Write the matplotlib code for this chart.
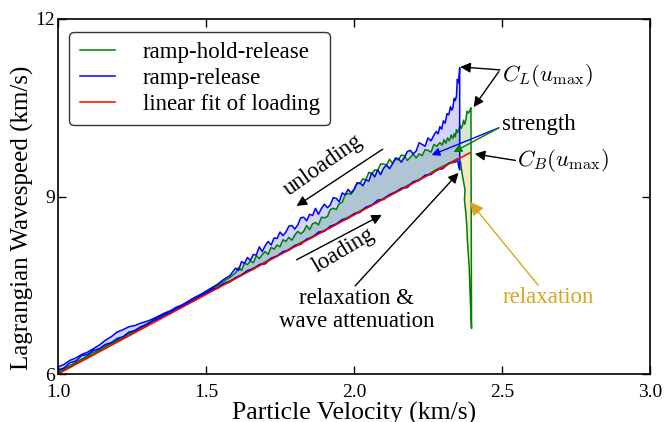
import matplotlib
matplotlib.use("Agg")
import matplotlib.pyplot as plt

plt.rcParams['font.family'] = ['Liberation Serif', 'DejaVu Serif']
plt.rcParams['mathtext.fontset'] = 'cm'

# ---------------- data ----------------
fit_x = [1.0, 2.392]
fit_y = [6.0, 9.74]

# ramp-release: loading branch
rr_load_x = [1.00, 1.02, 1.04, 1.06, 1.08, 1.10, 1.12, 1.14, 1.16, 1.18, 1.20, 1.22, 1.24, 1.26,
             1.28, 1.30, 1.32, 1.34, 1.36, 1.38, 1.40, 1.42, 1.44, 1.46, 1.48, 1.50, 1.52, 1.54,
             1.56, 1.58, 1.60, 1.62, 1.64, 1.66, 1.68, 1.70, 1.72, 1.74, 1.76, 1.78, 1.80, 1.82,
             1.84, 1.86, 1.88, 1.90, 1.92, 1.94, 1.96, 1.98, 2.00, 2.02, 2.04, 2.06, 2.08, 2.10,
             2.12, 2.14, 2.16, 2.18, 2.20, 2.22, 2.24, 2.26, 2.28, 2.30, 2.32, 2.34, 2.350, 2.354, 2.357]
rr_load_y = [6.07, 6.10, 6.19, 6.22, 6.31, 6.33, 6.40, 6.43, 6.50, 6.53, 6.60, 6.63, 6.71, 6.73,
             6.80, 6.83, 6.90, 6.94, 7.01, 7.03, 7.11, 7.14, 7.21, 7.24, 7.32, 7.36, 7.43, 7.45,
             7.53, 7.55, 7.63, 7.67, 7.75, 7.77, 7.85, 7.86, 7.96, 7.99, 8.07, 8.09, 8.17, 8.19,
             8.28, 8.31, 8.40, 8.41, 8.50, 8.53, 8.61, 8.63, 8.71, 8.73, 8.82, 8.85, 8.94, 8.95,
             9.03, 9.07, 9.14, 9.15, 9.25, 9.27, 9.36, 9.37, 9.45, 9.47, 9.56, 9.58, 9.60, 9.50, 9.45]

# ramp-release: unloading branch (from peak back down)
rr_unload_x = [2.357, 2.353, 2.349, 2.346, 2.342, 2.338, 2.334, 2.330, 2.326, 2.320, 2.314, 2.308,
               2.302, 2.296, 2.290, 2.284, 2.278,
               2.27, 2.26, 2.25, 2.24, 2.23, 2.22, 2.21, 2.20, 2.19, 2.18, 2.17, 2.16, 2.15, 2.14,
               2.13, 2.12, 2.11, 2.10, 2.09, 2.08, 2.07, 2.06, 2.05, 2.04, 2.03, 2.02, 2.01, 2.00,
               1.99, 1.98, 1.97, 1.96, 1.95, 1.94, 1.93, 1.92, 1.91, 1.90, 1.89, 1.88, 1.87, 1.86,
               1.85, 1.84, 1.83, 1.82, 1.81, 1.80, 1.79, 1.78, 1.77, 1.76, 1.75, 1.74, 1.73, 1.72,
               1.71, 1.70, 1.69, 1.68, 1.67, 1.66, 1.65, 1.64, 1.63, 1.62, 1.61, 1.60,
               1.58, 1.56, 1.54, 1.52, 1.50, 1.48, 1.46, 1.44, 1.42, 1.40, 1.38, 1.36, 1.34, 1.32,
               1.30, 1.28, 1.26, 1.24, 1.22, 1.20, 1.18, 1.16, 1.14, 1.12, 1.10, 1.08, 1.06, 1.04,
               1.02, 1.00]
rr_unload_y = [11.18, 10.92, 10.98, 10.70, 10.62, 10.66, 10.50, 10.46, 10.52, 10.38, 10.40, 10.24,
               10.28, 10.14, 10.18, 10.06, 10.10,
               10.04, 9.94, 9.99, 9.85, 9.88, 9.91, 9.77, 9.72, 9.78, 9.76, 9.66, 9.58, 9.64, 9.65,
               9.55, 9.47, 9.53, 9.48, 9.37, 9.45, 9.33, 9.40, 9.26, 9.28, 9.18, 9.23, 9.23, 9.12,
               9.06, 9.12, 9.03, 9.06, 8.91, 8.97, 8.98, 8.86, 8.81, 8.87, 8.80, 8.70, 8.80, 8.68,
               8.70, 8.59, 8.65, 8.64, 8.52, 8.45, 8.51, 8.50, 8.40, 8.34, 8.40, 8.29, 8.30, 8.18,
               8.24, 8.17, 8.07, 8.15, 8.01, 8.02, 7.92, 7.97, 7.87, 7.90, 7.75, 7.79,
               7.66, 7.60, 7.52, 7.46, 7.40, 7.34, 7.29, 7.23, 7.17, 7.13, 7.07, 7.03, 6.98, 6.93,
               6.89, 6.86, 6.82, 6.80, 6.75, 6.71, 6.63, 6.57, 6.49, 6.43, 6.37, 6.33, 6.27, 6.23,
               6.16, 6.12]

# ramp-hold-release: loading branch + relaxation during hold
rhr_load_x = [1.00, 1.04, 1.08, 1.12, 1.16, 1.20, 1.24, 1.28, 1.32, 1.36, 1.40, 1.44, 1.48, 1.52,
              1.56, 1.60, 1.64, 1.68, 1.72, 1.76, 1.80, 1.84, 1.88, 1.92, 1.96, 2.00, 2.04, 2.08,
              2.12, 2.16, 2.20, 2.24, 2.28, 2.32, 2.35, 2.36]
rhr_load_y = [6.02, 6.12, 6.24, 6.33, 6.46, 6.56, 6.67, 6.77, 6.89, 6.98, 7.10, 7.19, 7.31, 7.41,
              7.53, 7.62, 7.74, 7.84, 7.95, 8.05, 8.17, 8.27, 8.38, 8.48, 8.60, 8.70, 8.81, 8.91,
              9.03, 9.13, 9.24, 9.34, 9.46, 9.56, 9.64, 9.58]
rhr_hold_x = [2.364, 2.369, 2.375, 2.373, 2.378, 2.381, 2.383, 2.386, 2.389, 2.391, 2.393, 2.395, 2.397]
rhr_hold_y = [9.42, 9.28, 9.11, 8.94, 8.71, 8.49, 8.26, 8.04, 7.81, 7.53, 7.25, 6.97, 6.77]

# ramp-hold-release: unloading branch (from peak back down)
rhr_unload_x = [2.395, 2.390, 2.386, 2.382, 2.378, 2.374, 2.370, 2.366, 2.362, 2.358, 2.354, 2.350,
                2.346, 2.342, 2.338, 2.334, 2.328, 2.322, 2.316, 2.310, 2.304, 2.298, 2.290,
                2.28, 2.27, 2.26, 2.25, 2.24, 2.23, 2.22, 2.21, 2.20, 2.19, 2.18, 2.17, 2.16, 2.15,
                2.14, 2.13, 2.12, 2.11, 2.10, 2.09, 2.08, 2.07, 2.06, 2.05, 2.04, 2.03, 2.02, 2.01,
                2.00, 1.99, 1.98, 1.97, 1.96, 1.95, 1.94, 1.93, 1.92, 1.91, 1.90, 1.89, 1.88, 1.87,
                1.86, 1.85, 1.84, 1.83, 1.82, 1.81, 1.80, 1.79, 1.78, 1.77, 1.76, 1.75, 1.74, 1.73,
                1.72, 1.71, 1.70, 1.69, 1.68, 1.67, 1.66, 1.65, 1.64, 1.63, 1.62, 1.61, 1.60,
                1.58, 1.56, 1.54, 1.52, 1.50, 1.46, 1.42, 1.38, 1.34, 1.30, 1.26, 1.22, 1.18, 1.14,
                1.10, 1.06, 1.02, 1.00]
rhr_unload_y = [10.50, 10.44, 10.41, 10.44, 10.30, 10.22, 10.29, 10.19, 10.15, 10.21, 10.12, 10.08,
                10.13, 10.01, 10.06, 9.98, 10.04, 9.94, 9.99, 9.90, 9.96, 9.87, 9.91,
                9.85, 9.88, 9.75, 9.78, 9.79, 9.69, 9.72, 9.65, 9.72, 9.66, 9.61, 9.69, 9.70, 9.62,
                9.63, 9.56, 9.63, 9.53, 9.55, 9.55, 9.44, 9.45, 9.38, 9.41, 9.28, 9.30, 9.22, 9.22,
                9.11, 9.04, 9.05, 9.03, 8.90, 8.88, 8.78, 8.80, 8.78, 8.66, 8.64, 8.65, 8.52, 8.56,
                8.54, 8.44, 8.51, 8.41, 8.37, 8.41, 8.35, 8.26, 8.31, 8.24, 8.27, 8.15, 8.18, 8.11,
                8.14, 8.02, 8.07, 8.02, 7.95, 8.00, 7.88, 7.91, 7.85, 7.87, 7.75, 7.80, 7.71,
                7.63, 7.57, 7.50, 7.44, 7.38, 7.28, 7.16, 7.06, 6.96, 6.85, 6.74, 6.63, 6.52, 6.42,
                6.31, 6.20, 6.09, 6.04]

x_ticks = [1.0, 1.5, 2.0, 2.5, 3.0]
x_ticklabels = ["1.0", "1.5", "2.0", "2.5", "3.0"]
y_ticks = [6, 9, 12]
y_ticklabels = ["6", "9", "12"]

# ---------------- figure ----------------
fig = plt.figure(figsize=(6.64, 4.22), dpi=100)
ax = fig.add_axes([0.0873, 0.1137, 0.8917, 0.8413])

rr_x = rr_load_x + rr_unload_x
rr_y = rr_load_y + rr_unload_y
rhr_x = rhr_load_x + rhr_hold_x + rhr_unload_x
rhr_y = rhr_load_y + rhr_hold_y + rhr_unload_y

# fills
ax.fill(rr_x, rr_y, color='blue', alpha=0.17, lw=0)
ax.fill(fit_x + rhr_unload_x, fit_y + rhr_unload_y, color='green', alpha=0.17, lw=0)
ax.fill([2.36] + rhr_hold_x + [2.395], [9.658] + rhr_hold_y + [9.74],
        color='goldenrod', alpha=0.25, lw=0)

lw = 1.1
ax.plot(rhr_x, rhr_y, color='green', lw=lw, label='ramp-hold-release')
ax.plot(rr_x, rr_y, color='blue', lw=lw, label='ramp-release')
ax.plot(fit_x, fit_y, color='red', lw=lw, label='linear fit of loading')

ax.set_xlim(1.0, 3.0)
ax.set_ylim(6, 12)
ax.set_xticks(x_ticks)
ax.set_xticklabels(x_ticklabels)
ax.set_yticks(y_ticks)
ax.set_yticklabels(y_ticklabels)
ax.tick_params(direction='in', top=True, right=True, length=6, width=1, labelsize=14)
ax.tick_params(axis='x', pad=7)
ax.tick_params(axis='y', pad=2)
for s in ax.spines.values():
    s.set_linewidth(1.2)

ax.set_xlabel('Particle Velocity (km/s)', fontsize=18.5, labelpad=1)
ax.set_ylabel('Lagrangian Wavespeed (km/s)', fontsize=18)
ax.yaxis.set_label_coords(-0.040, 0.439)

leg = ax.legend(loc='upper left', fontsize=16.5, handlelength=1.55, handletextpad=1.2,
                borderpad=0.45, labelspacing=0.2, fancybox=True, framealpha=1,
                borderaxespad=0, bbox_to_anchor=(0.019, 0.963))
leg.get_frame().set_edgecolor('#333333')
leg.get_frame().set_linewidth(1.0)

fs = 16.5
akw = dict(arrowstyle='-|>', color='k', lw=1.0, mutation_scale=15, shrinkA=0, shrinkB=0)

ax.annotate('', xy=(1.806, 8.84), xytext=(2.097, 9.80), arrowprops=akw)
ax.text(1.894, 9.53, 'unloading', fontsize=fs, rotation=35, ha='center', va='center',
        rotation_mode='anchor')
ax.annotate('', xy=(2.094, 8.69), xytext=(1.806, 7.93), arrowprops=akw)
ax.text(1.966, 8.09, 'loading', fontsize=fs, rotation=31, ha='center', va='center',
        rotation_mode='anchor')

ax.annotate('', xy=(2.353, 9.40), xytext=(2.004, 7.49), arrowprops=akw)
ax.text(2.01, 7.08, 'relaxation &\nwave attenuation', fontsize=fs, ha='center', va='center',
        linespacing=1.1)

ax.annotate('', xy=(2.392, 8.91), xytext=(2.622, 7.50),
            arrowprops=dict(arrowstyle='-|>', color='goldenrod', lw=1.0, mutation_scale=20,
                            shrinkA=0, shrinkB=0))
ax.text(2.657, 7.30, 'relaxation', fontsize=fs, color='goldenrod', ha='center', va='center')

ax.annotate('', xy=(2.359, 11.19), xytext=(2.493, 11.14), arrowprops=akw)
ax.annotate('', xy=(2.404, 10.51), xytext=(2.489, 11.11), arrowprops=akw)
ax.text(2.50, 11.05, r'$C_L(u_{\max})$', fontsize=fs, ha='left', va='center')

ax.annotate('', xy=(2.262, 9.70), xytext=(2.489, 10.16),
            arrowprops=dict(arrowstyle='-|>', color='blue', lw=1.0, mutation_scale=12,
                            shrinkA=0, shrinkB=0))
ax.annotate('', xy=(2.336, 9.75), xytext=(2.489, 10.16),
            arrowprops=dict(arrowstyle='-|>', color='green', lw=1.0, mutation_scale=12,
                            shrinkA=0, shrinkB=0))
ax.text(2.50, 10.21, 'strength', fontsize=fs, ha='left', va='center')

ax.annotate('', xy=(2.408, 9.72), xytext=(2.545, 9.61), arrowprops=akw)
ax.text(2.551, 9.61, r'$C_B(u_{\max})$', fontsize=fs, ha='left', va='center')

fig.savefig('out.png', dpi=100)
